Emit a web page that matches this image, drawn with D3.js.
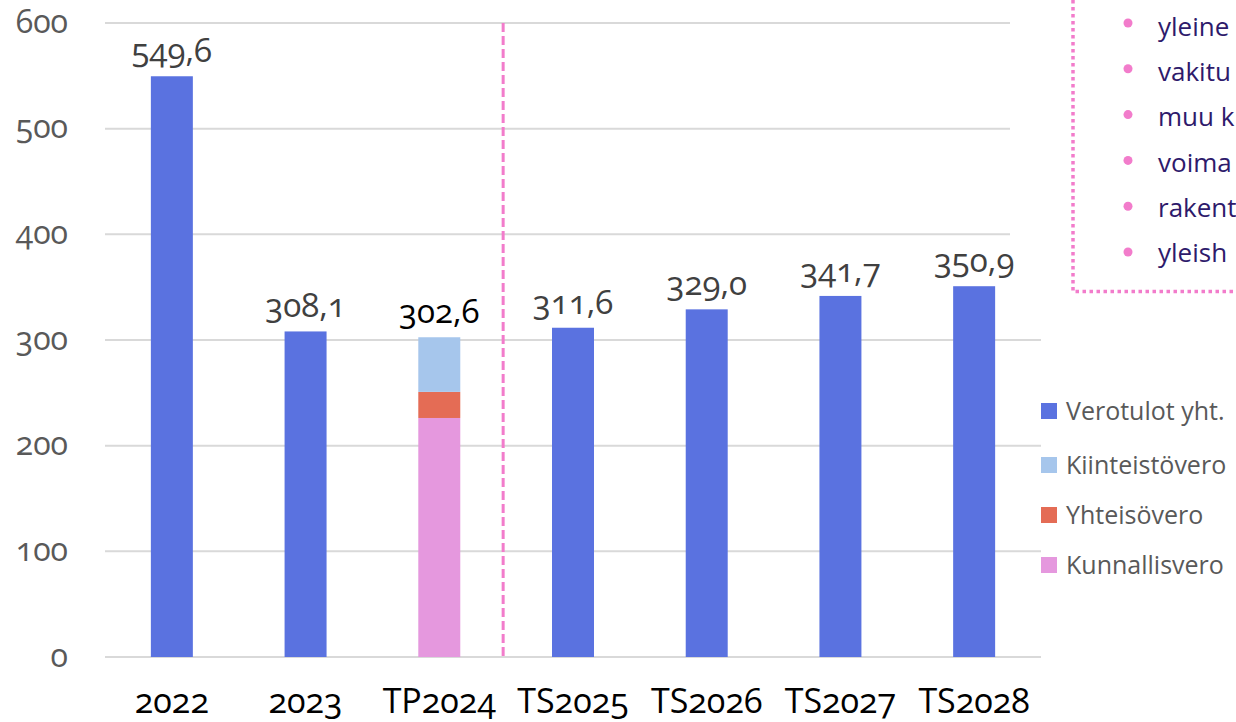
<!DOCTYPE html>
<html>
<head>
<meta charset="utf-8">
<script src="https://cdn.jsdelivr.net/npm/d3@7"></script>
<style>
  body { margin: 0; background: #fff; }
  svg { display: block; font-family: "Open Sans", sans-serif; font-variant-numeric: oldstyle-nums; }
</style>
</head>
<body>
<svg id="chart"></svg>
<script>
var width = 1236, height = 722;

var years = ["2022", "2023", "TP2024", "TS2025", "TS2026", "TS2027", "TS2028"];
var total = [549.6, 308.1, null, 311.6, 329.0, 341.7, 350.9];
var kunnallisvero = [null, null, 226.2, null, null, null, null];
var yhteisovero = [null, null, 24.7, null, null, null, null];
var kiinteistovero = [null, null, 51.7, null, null, null, null];
var labels = ["549,6", "308,1", "302,6", "311,6", "329,0", "341,7", "350,9"];
var yTicks = [0, 100, 200, 300, 400, 500, 600];

var legendNames = ["Verotulot yht.", "Kiinteistövero", "Yhteisövero", "Kunnallisvero"];
// the box is cut by the right edge of the slide, only these parts show
var boxLines = ["yleine", "vakitu", "muu k", "voima", "rakent", "yleish"];

var blue = "#5a72e0";
var lightblue = "#a6c6ec";
var red = "#e46c55";
var pink = "#e598de";
var dashPink = "#f27ccb";
var legendColors = [blue, lightblue, red, pink];

var svg = d3.select("#chart").attr("width", width).attr("height", height);

var x = d3.scaleBand().domain(years).range([105, 1041]).paddingInner(0.686).paddingOuter(0.343);
var y = d3.scaleLinear().domain([0, 600]).range([657, 23]);

// gridlines
svg.append("g").selectAll("line").data(yTicks).join("line")
   .attr("x1", 105).attr("x2", 1041)
   .attr("y1", function(d){ return y(d); }).attr("y2", function(d){ return y(d); })
   .attr("stroke", "#d9d9d9").attr("stroke-width", 2);

// white back of the text box hides the grid ends
svg.append("rect").attr("x", 1010).attr("y", 0).attr("width", 230).attr("height", 292).attr("fill", "#fff");

// y labels
svg.append("g").selectAll("text").data(yTicks).join("text")
   .attr("x", 68).attr("y", function(d){ return y(d); })
   .attr("dy", "0.3em").attr("text-anchor", "end")
   .attr("fill", "#595959").attr("font-size", 32)
   .text(function(d){ return d; });

// single bars
svg.append("g").selectAll("rect").data(years.filter(function(d,i){ return total[i] != null; })).join("rect")
   .attr("x", function(d){ return x(d); })
   .attr("width", x.bandwidth())
   .attr("y", function(d){ return y(total[years.indexOf(d)]); })
   .attr("height", function(d){ return y(0) - y(total[years.indexOf(d)]); })
   .attr("fill", blue);

// stacked bar
var stackRows = years.map(function(d, i){
  return {year: d, k: kunnallisvero[i] || 0, y: yhteisovero[i] || 0, ki: kiinteistovero[i] || 0};
}).filter(function(r){ return r.k + r.y + r.ki > 0; });
var stack = d3.stack().keys(["k", "y", "ki"])(stackRows);
var stackColors = {k: pink, y: red, ki: lightblue};
stack.forEach(function(layer){
  svg.append("g").selectAll("rect").data(layer).join("rect")
     .attr("x", function(d){ return x(d.data.year); })
     .attr("width", x.bandwidth())
     .attr("y", function(d){ return y(d[1]); })
     .attr("height", function(d){ return y(d[0]) - y(d[1]); })
     .attr("fill", stackColors[layer.key]);
});

// value labels
svg.append("g").selectAll("text").data(years).join("text")
   .attr("x", function(d){ return x(d) + x.bandwidth()/2; })
   .attr("y", function(d, i){
     var v = total[i] != null ? total[i] : kunnallisvero[i] + yhteisovero[i] + kiinteistovero[i];
     return y(v) - 14;
   })
   .attr("text-anchor", "middle").attr("font-size", 33)
   .attr("fill", function(d, i){ return total[i] == null ? "#000" : "#404040"; })
   .text(function(d, i){ return labels[i]; });

// x labels
svg.append("g").selectAll("text").data(years).join("text")
   .attr("x", function(d){ return x(d) + x.bandwidth()/2; })
   .attr("y", 713)
   .attr("text-anchor", "middle").attr("font-size", 34).attr("fill", "#000")
   .text(function(d){ return d; });

// dashed divider between actuals and budgets
var divX = (x("TP2024") + x.bandwidth() + x("TS2025")) / 2 - 3;
svg.append("line")
   .attr("x1", divX).attr("x2", divX).attr("y1", y(600)).attr("y2", y(0))
   .attr("stroke", dashPink).attr("stroke-width", 3).attr("stroke-dasharray", "9,4");

// text box (clipped at right edge)
svg.append("path")
   .attr("d", "M1073,0 L1073,291.5 L1240,291.5")
   .attr("fill", "none").attr("stroke", dashPink).attr("stroke-width", 3.5).attr("stroke-dasharray", "3.5,3.5");
var boxG = svg.append("g");
boxG.selectAll("circle").data(boxLines).join("circle")
   .attr("cx", 1128).attr("cy", function(d, i){ return 23 + i * 45.8; })
   .attr("r", 4.5).attr("fill", dashPink);
boxG.selectAll("text").data(boxLines).join("text")
   .attr("x", 1158).attr("y", function(d, i){ return 36 + i * 45.2; })
   .attr("font-size", 26).attr("fill", "#2e1a6b")
   .text(function(d){ return d; });

// legend
var lg = svg.append("g").selectAll("g").data(legendNames).join("g")
   .attr("transform", function(d, i){ return "translate(1041," + [411, 465, 515, 565][i] + ")"; });
lg.append("rect").attr("x", 0).attr("y", -8).attr("width", 16).attr("height", 16)
   .attr("fill", function(d, i){ return legendColors[i]; });
lg.append("text").attr("x", 25).attr("dy", "0.35em")
   .attr("font-size", 25).attr("fill", "#595959")
   .text(function(d){ return d; });
</script>
</body>
</html>
